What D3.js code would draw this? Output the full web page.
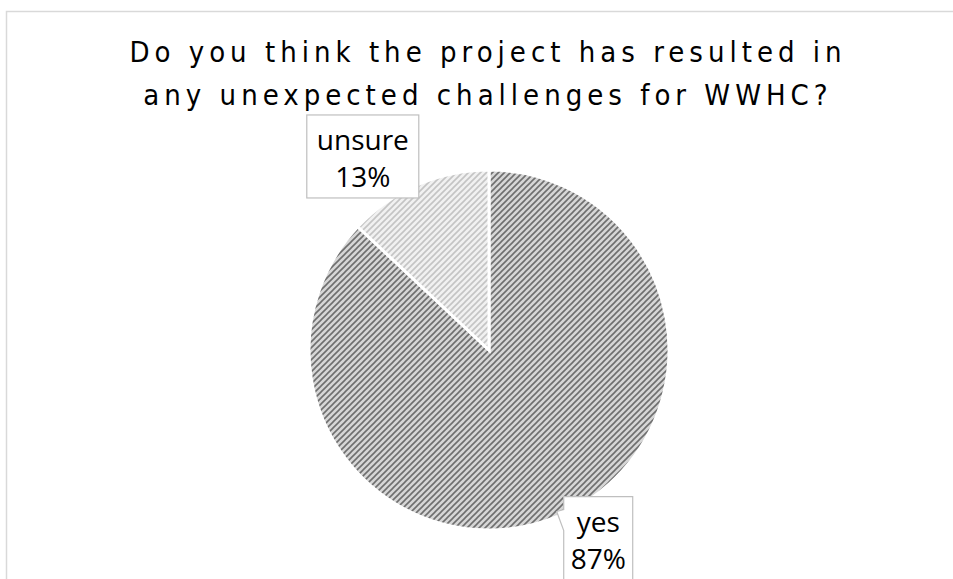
<!DOCTYPE html>
<html>
<head>
<meta charset="utf-8">
<script src="https://cdn.jsdelivr.net/npm/d3@7"></script>
<style>
  body { margin: 0; background: #fff; }
  svg { display: block; }
</style>
</head>
<body>
<svg id="chart"></svg>
<script>
// 차트 데이터
var titleLines = ["Do you think the project has resulted in", "any unexpected challenges for WWHC?"];
var categories = ["yes", "unsure"];
var values = [87, 13];

var width = 953;
var height = 579;

var svg = d3.select("#chart")
    .attr("width", width)
    .attr("height", height);

// 패턴 정의 (사선 빗금)
var defs = svg.append("defs");
var patternStyles = [
    { id: "pat-yes", bg: "#d6d6d6", fg: "#6e6e6e" },
    { id: "pat-unsure", bg: "#f1f1f1", fg: "#c4c4c4" }
];
patternStyles.forEach(function(p) {
    var pat = defs.append("pattern")
        .attr("id", p.id)
        .attr("patternUnits", "userSpaceOnUse")
        .attr("width", 6)
        .attr("height", 6);
    pat.append("rect").attr("width", 6).attr("height", 6).attr("fill", p.bg);
    pat.append("path")
        .attr("d", "M-1,1 l2,-2 M0,6 l6,-6 M5,7 l2,-2")
        .attr("stroke", p.fg)
        .attr("stroke-width", 1.6);
});

// 차트 영역 테두리
svg.append("rect")
    .attr("x", 6.5)
    .attr("y", 11.5)
    .attr("width", width + 20)
    .attr("height", height + 20)
    .attr("fill", "white")
    .attr("stroke", "#d9d9d9")
    .attr("stroke-width", 1.5);

// 제목
svg.append("g")
    .selectAll("text")
    .data(titleLines)
    .enter().append("text")
    .attr("x", 488)
    .attr("y", function(d, i) { return 62 + i * 43; })
    .attr("text-anchor", "middle")
    .style("font-family", "'DejaVu Sans Condensed', 'DejaVu Sans', sans-serif")
    .style("font-size", "29px")
    .style("letter-spacing", "5px")
    .style("fill", "#000")
    .text(function(d) { return d; });

// 파이 차트
var cx = 489, cy = 350, radius = 180;

var data = categories.map(function(c, i) { return { label: c, value: values[i] }; });

var pie = d3.pie()
    .value(function(d) { return d.value; })
    .sort(null);

var arc = d3.arc()
    .innerRadius(0)
    .outerRadius(radius);

var g = svg.append("g")
    .attr("transform", "translate(" + cx + "," + cy + ")");

var arcs = pie(data);

g.selectAll("path")
    .data(arcs)
    .enter().append("path")
    .attr("d", arc)
    .attr("fill", function(d, i) { return "url(#" + patternStyles[i].id + ")"; })
    .style("stroke", "white")
    .style("stroke-width", 3)
    .style("stroke-linejoin", "miter");

// 데이터 레이블 (콜아웃)
var labelArc = d3.arc().innerRadius(radius * 1.22).outerRadius(radius * 1.22);
var labelBox = [
    { w: 69, h: 90, dx: 22, dy: -10 },   // yes
    { w: 112, h: 83, dx: -39, dy: 8 }    // unsure
];

arcs.forEach(function(d, i) {
    var c = labelArc.centroid(d);
    var b = labelBox[i];
    var bx = c[0] + b.dx - b.w / 2;
    var by = c[1] + b.dy - b.h / 2;
    var lg = g.append("g");

    if (d.data.label === "yes") {
        // 왼쪽 가장자리의 포인터
        var pathD = "M" + bx + "," + by +
            " L" + (bx + b.w) + "," + by +
            " L" + (bx + b.w) + "," + (by + b.h) +
            " L" + bx + "," + (by + b.h) +
            " L" + bx + "," + (by + 34) +
            " L" + (bx - 7) + "," + (by + 15) +
            " L" + bx + "," + (by + 13) + " Z";
        lg.append("path")
            .attr("d", pathD)
            .attr("fill", "white")
            .attr("stroke", "#bfbfbf")
            .attr("stroke-width", 1.2);
    } else {
        lg.append("rect")
            .attr("x", bx)
            .attr("y", by)
            .attr("width", b.w)
            .attr("height", b.h)
            .attr("fill", "white")
            .attr("stroke", "#bfbfbf")
            .attr("stroke-width", 1.2);
    }

    lg.selectAll("text")
        .data([d.data.label, d.data.value + "%"])
        .enter().append("text")
        .attr("x", bx + b.w / 2)
        .attr("y", function(t, k) { return by + 35 + k * 37; })
        .attr("text-anchor", "middle")
        .style("font-family", "'Open Sans', 'Noto Sans', sans-serif")
        .style("font-size", "28px")
        .style("fill", "#000")
        .text(function(t) { return t; });
});
</script>
</body>
</html>
